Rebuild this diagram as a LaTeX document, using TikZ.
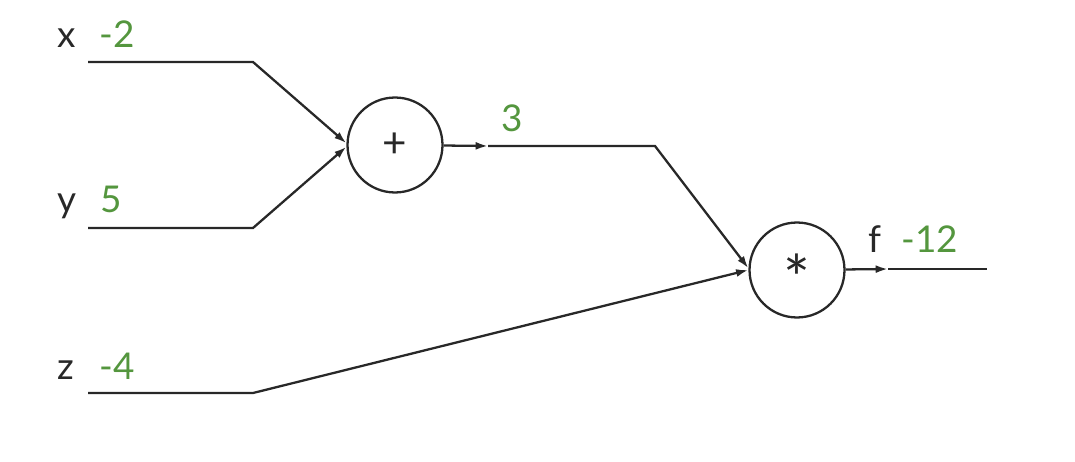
\documentclass[tikz,border=0pt]{standalone}
\usepackage{fontspec}
\setmainfont{Lato}
\usetikzlibrary{arrows.meta,positioning}
\definecolor{valgreen}{RGB}{84,150,62}
\definecolor{inkgray}{RGB}{40,40,40}
\tikzset{
  op node/.style={draw=inkgray,circle,line width=1.3pt,minimum size=1.9cm,
    inner sep=0pt,font=\fontsize{24}{28}\selectfont,text=inkgray},
  wire/.style={line width=1.3pt,draw=inkgray},
  in arrow/.style={wire,-{Latex[length=7pt,width=4.5pt]}},
  var label/.style={font=\fontsize{21}{25}\selectfont,text=inkgray,
    inner sep=0pt,anchor=base west},
  value label/.style={var label,text=valgreen},
}
\begin{document}
\begin{tikzpicture}[x=0.02cm,y=-0.02cm]
  \useasboundingbox (0,0) rectangle (1075,462);
  % the two gates
  \node[op node] (add) at (395,145) {+};
  \node[op node] (mul) at (797,270)
    {\fontsize{36}{36}\selectfont\smash{\raisebox{-0.5em}{*}}};

  % inputs x, y, z
  \coordinate (xstart) at (88,62);
  \coordinate (xbend) at (253,62);
  \coordinate (ystart) at (88,228);
  \coordinate (ybend) at (253,228);
  \coordinate (zstart) at (88,393);
  \coordinate (zbend) at (253,393);
  \draw[in arrow] (xstart) -- (xbend) -- ([yshift=1pt]add.west);
  \draw[in arrow] (ystart) -- (ybend) -- ([yshift=-1pt]add.west);
  \draw[in arrow] (zstart) -- (zbend) -- (mul.west);

  % gate outputs, the tip sits part way along
  \coordinate (addtip) at (488,146);
  \coordinate (addbend) at (655,146);
  \draw[in arrow] (add) -- (addtip);
  \draw[in arrow] (addtip) -- (addbend) -- ([yshift=1pt]mul.west);
  \coordinate (ftip) at (888,269);
  \coordinate (fend) at (987,269);
  \draw[in arrow] (mul) -- (ftip);
  \draw[wire] (ftip) -- (fend);

  \node[var label] (xname) at (57,48) {x};
  \node[value label] (xval) at (99,48) {-2};
  \node[var label] (yname) at (57,213) {y};
  \node[value label] (yval) at (100,213) {5};
  \node[var label] (zname) at (57,379) {z};
  \node[value label] (zval) at (99,379) {-4};
  \node[value label] (addval) at (501,132) {3};
  \node[var label] (fname) at (868,253) {f};
  \node[value label] (fval) at (901,253) {-12};
\end{tikzpicture}
\end{document}
